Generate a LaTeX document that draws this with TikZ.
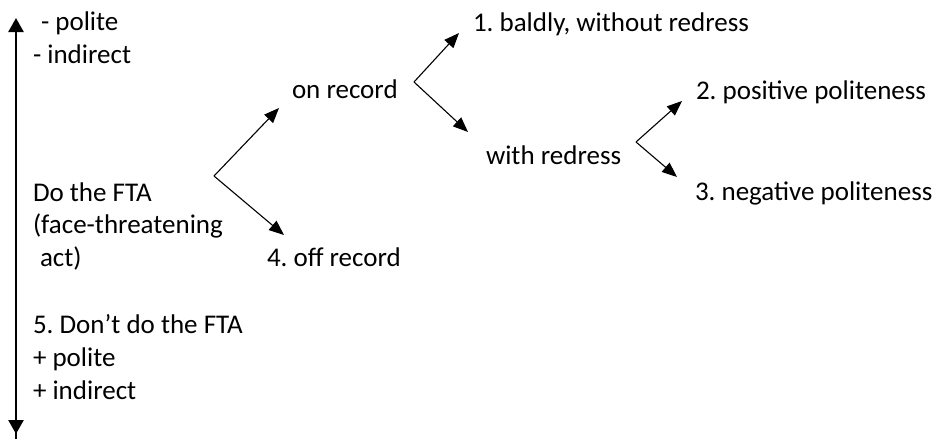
\documentclass[tikz,border=0pt]{standalone}
\usepackage{fontspec}
\setmainfont{Carlito}
\usetikzlibrary{arrows.meta}
\frenchspacing
\begin{document}
\begin{tikzpicture}[x=1pt,y=-1pt,
  lbl/.style={anchor=base west,inner sep=0pt,outer sep=0pt,font=\fontsize{27}{33}\selectfont\frenchspacing},
  branch/.style={line width=1.1pt,-{Triangle[length=15pt,width=12pt]}},
  axishead/.style={line width=2.4pt,-{Triangle[length=14pt,width=15pt]}}]
\useasboundingbox (0,0) rectangle (939,439);
% scale axis
\coordinate (axtop) at (16,18);
\coordinate (axbot) at (16,439);
\coordinate (axdn1) at (16,418);
\coordinate (axdn2) at (16,434);
\draw[axishead] (axbot) -- (axtop);
\draw[axishead] (axdn1) -- (axdn2);
% labels
\node[lbl] (mpol) at (41,30) {- polite};
\node[lbl] (mind) at (33,63) {- indirect};
\node[lbl] (onrec) at (292,98) {on record};
\node[lbl] (bald) at (473,31) {1. baldly, without redress};
\node[lbl] (pos) at (696,99) {2. positive politeness};
\node[lbl] (withr) at (486,164) {with redress};
\node[lbl] (neg) at (695,200) {3. negative politeness};
\node[lbl] (fta1) at (33,201) {Do the FTA};
\node[lbl] (fta2) at (33,233) {(face-threatening};
\node[lbl] (fta3) at (40,266) {act)};
\node[lbl] (offrec) at (267,266) {4. off record};
\node[lbl] (dont) at (33,333) {5. Don’t do the FTA};
\node[lbl] (ppol) at (33,366) {+ polite};
\node[lbl] (pind) at (33,399) {+ indirect};
% branch points and tips
\coordinate (apexA) at (214,176);
\coordinate (tipA1) at (279,108);
\coordinate (tipA2) at (284,235);
\coordinate (apexB) at (414,82);
\coordinate (tipB1) at (459,33);
\coordinate (tipB2) at (468,132);
\coordinate (apexC) at (636,142);
\coordinate (tipC1) at (682,101);
\coordinate (tipC2) at (677,177);
\draw[branch] (apexA) -- (tipA1);
\draw[branch] (apexA) -- (tipA2);
\draw[branch] (apexB) -- (tipB1);
\draw[branch] (apexB) -- (tipB2);
\draw[branch] (apexC) -- (tipC1);
\draw[branch] (apexC) -- (tipC2);
\end{tikzpicture}
\end{document}
